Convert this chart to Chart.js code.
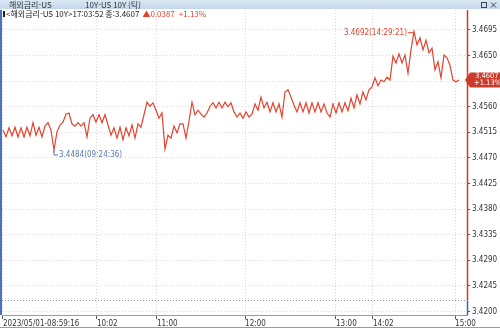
<!DOCTYPE html>
<html lang="ko">
<head>
<meta charset="UTF-8">
<title>해외금리-US 10Y</title>
<style>
  body { margin: 0; background: #fff; }
  #wrap { width: 500px; height: 328px; }
</style>
</head>
<body>
<div id="wrap"><canvas id="chart" width="500" height="328"></canvas></div>
<script src="https://cdn.jsdelivr.net/npm/chart.js"></script>
<script>
// tick-by-tick yield
const values = [
  3.4519, 3.4507, 3.4523, 3.4509, 3.4524, 3.4507, 3.4523, 3.4507, 3.4524, 3.4509,
  3.4532, 3.4510, 3.4524, 3.4507, 3.4526, 3.4532, 3.4519, 3.4484, 3.4516, 3.4528,
  3.4533, 3.4547, 3.4549, 3.4530, 3.4526, 3.4532, 3.4526, 3.4532, 3.4507, 3.4540,
  3.4546, 3.4533, 3.4546, 3.4532, 3.4546, 3.4528, 3.4510, 3.4523, 3.4505, 3.4524,
  3.4502, 3.4523, 3.4509, 3.4528, 3.4505, 3.4530, 3.4524, 3.4546, 3.4568, 3.4561,
  3.4567, 3.4554, 3.4540, 3.4549, 3.4486, 3.4510, 3.4505, 3.4526, 3.4514, 3.4530,
  3.4530, 3.4505, 3.4535, 3.4568, 3.4546, 3.4554, 3.4547, 3.4542, 3.4549, 3.4561,
  3.4567, 3.4558, 3.4568, 3.4558, 3.4568, 3.4560, 3.4567, 3.4551, 3.4542, 3.4549,
  3.4540, 3.4551, 3.4542, 3.4547, 3.4565, 3.4554, 3.4577, 3.4558, 3.4568, 3.4551,
  3.4567, 3.4551, 3.4565, 3.4542, 3.4586, 3.4590, 3.4577, 3.4563, 3.4551, 3.4567,
  3.4551, 3.4567, 3.4549, 3.4567, 3.4551, 3.4567, 3.4551, 3.4565, 3.4549, 3.4542,
  3.4565, 3.4549, 3.4567, 3.4551, 3.4567, 3.4553, 3.4575, 3.4558, 3.4581, 3.4565,
  3.4586, 3.4572, 3.4590, 3.4595, 3.4611, 3.4597, 3.4607, 3.4604, 3.4612, 3.4607,
  3.4649, 3.4637, 3.4653, 3.4637, 3.4651, 3.4619, 3.4660, 3.4692, 3.4669, 3.4681,
  3.4660, 3.4677, 3.4655, 3.4663, 3.4625, 3.4639, 3.4611, 3.4651, 3.4646, 3.4633,
  3.4607, 3.4604, 3.4607
];
const maxTime = '14:29:21';
const minTime = '09:24:36';

// x axis: tick index where each time label sits
const xTickPos = [0, 31.3, 51.3, 80.7, 111, 123.3, 150.7];
const xTickLabels = ['2023/05/01-08:59:16', '10:02', '11:00', '12:00', '13:00', '14:02', '15:00'];

const yTicks = [3.4200, 3.4245, 3.4290, 3.4335, 3.4380, 3.4425, 3.4470, 3.4515, 3.4560, 3.4605, 3.4650, 3.4695];

const prevClose = 3.4220;
const lastPrice = 3.4607;
const change = 0.0387;
const changePct = '+1.13%';

const red = '#e2432f';
const gridColor = '#e3d5d5';
const smallFont = "'Liberation Sans Narrow', 'DejaVu Sans Condensed', Arial, sans-serif";
const krFont = "'Noto Sans CJK KR', 'Noto Sans', sans-serif";

const extras = {
  id: 'extras',
  beforeDraw(chart) {
    const c = chart.ctx;
    c.save();
    c.fillStyle = '#fff';
    c.fillRect(0, 0, chart.width, chart.height);
    c.restore();
  },
  afterDatasetsDraw(chart) {
    const c = chart.ctx;
    const x = chart.scales.x, y = chart.scales.y;
    const a = chart.chartArea;
    c.save();

    // previous close line
    const py = Math.round(y.getPixelForValue(prevClose)) + 0.5;
    c.strokeStyle = '#8a93a6';
    c.lineWidth = 1;
    c.setLineDash([1, 2]);
    c.beginPath(); c.moveTo(a.left, py); c.lineTo(a.right, py); c.stroke();
    c.setLineDash([]);

    // right axis line: red above previous close, blue below
    c.lineWidth = 1.5;
    c.strokeStyle = '#d9342a';
    c.beginPath(); c.moveTo(a.right + 0.5, a.top); c.lineTo(a.right + 0.5, py); c.stroke();
    c.strokeStyle = '#3a63b8';
    c.beginPath(); c.moveTo(a.right + 0.5, py); c.lineTo(a.right + 0.5, a.bottom); c.stroke();

    // left frame edge
    c.strokeStyle = '#4a72c0';
    c.lineWidth = 2;
    c.beginPath(); c.moveTo(1, a.top); c.lineTo(1, a.bottom); c.stroke();

    // max / min markers
    const hi = Math.max(...values), lo = Math.min(...values);
    const hiX = x.getPixelForValue(values.indexOf(hi)), hiY = y.getPixelForValue(hi);
    const loX = x.getPixelForValue(values.indexOf(lo)), loY = y.getPixelForValue(lo);
    c.font = '8px ' + smallFont;
    c.textBaseline = 'middle';

    c.strokeStyle = red; c.fillStyle = red; c.lineWidth = 1;
    c.beginPath(); c.moveTo(hiX, hiY + 1); c.lineTo(hiX - 6, hiY + 1); c.stroke();
    c.textAlign = 'right';
    c.fillText(hi.toFixed(4) + '(' + maxTime + ')', hiX - 7, hiY + 1);

    c.strokeStyle = '#5b7bb0'; c.fillStyle = '#5b7bb0';
    c.beginPath(); c.moveTo(loX, loY); c.lineTo(loX, loY + 5); c.lineTo(loX + 4, loY + 5); c.stroke();
    c.textAlign = 'left';
    c.fillText(lo.toFixed(4) + '(' + minTime + ')', loX + 5, loY + 5);
    c.restore();
  },
  afterDraw(chart) {
    const c = chart.ctx;
    const y = chart.scales.y;
    const a = chart.chartArea;
    c.save();

    // title bar
    const g = c.createLinearGradient(0, 0, 0, 9);
    g.addColorStop(0, '#dbe8f4');
    g.addColorStop(1, '#c3d6ea');
    c.fillStyle = g;
    c.fillRect(0, 0, chart.width, 9);
    c.fillStyle = '#333';
    c.font = '8px ' + krFont;
    c.textBaseline = 'middle';
    c.textAlign = 'left';
    c.fillText('해외금리-US', 9, 5);
    c.fillText('10Y-US 10Y (틱)', 85, 5);
    c.strokeStyle = '#445';
    c.lineWidth = 1;
    c.strokeRect(481.5, 2.5, 5, 5);
    c.beginPath();
    c.moveTo(491, 2.5); c.lineTo(496, 7.5);
    c.moveTo(496, 2.5); c.lineTo(491, 7.5);
    c.stroke();

    // info line
    c.fillStyle = '#222';
    c.fillRect(3, 11, 2, 6);
    c.font = '8px ' + krFont;
    let tx = 6;
    const head = '<해외금리-US 10Y>17:03:52 종:' + lastPrice.toFixed(4);
    c.fillText(head, tx, 14);
    tx += c.measureText(head).width + 3;
    c.fillStyle = red;
    const chg = '▲' + change.toFixed(4);
    c.fillText(chg, tx, 14);
    tx += c.measureText(chg).width + 4;
    c.fillText(changePct, tx, 14);

    // last price box on the right axis
    const ly = y.getPixelForValue(lastPrice);
    c.fillStyle = '#cc3a2c';
    c.beginPath();
    c.moveTo(a.right - 2, ly);
    c.lineTo(a.right + 3, ly - 7.5);
    c.lineTo(chart.width, ly - 7.5);
    c.lineTo(chart.width, ly + 7.5);
    c.lineTo(a.right + 3, ly + 7.5);
    c.closePath();
    c.fill();
    c.fillStyle = '#fff';
    c.font = '7.5px ' + smallFont;
    c.textAlign = 'left';
    c.fillText(lastPrice.toFixed(4), a.right + 8, ly - 3.5);
    c.fillText(changePct, a.right + 7, ly + 3.5);

    // bottom frame line
    c.strokeStyle = '#9a9a9a';
    c.beginPath(); c.moveTo(0, chart.height - 0.5); c.lineTo(chart.width, chart.height - 0.5); c.stroke();
    c.restore();
  }
};

new Chart(document.getElementById('chart'), {
  type: 'line',
  data: {
    datasets: [{
      data: values.map((v, i) => ({ x: i, y: v })),
      borderColor: red,
      borderWidth: 1.2,
      pointRadius: 0,
      tension: 0
    }]
  },
  options: {
    responsive: false,
    devicePixelRatio: 1,
    animation: false,
    events: [],
    layout: { padding: { top: 10, left: 2, right: 0, bottom: 0 } },
    plugins: { legend: { display: false }, tooltip: { enabled: false } },
    scales: {
      x: {
        type: 'linear',
        min: -0.33,
        max: 154.67,
        afterBuildTicks: s => { s.ticks = xTickPos.map(v => ({ value: v })); },
        afterFit: s => { s.height = 13; },
        ticks: {
          autoSkip: false,
          maxRotation: 0,
          align: 'start',
          padding: 0,
          color: '#333',
          font: { size: 8, family: smallFont },
          callback: (v, i) => xTickLabels[i]
        },
        grid: { color: gridColor, tickLength: 4, tickColor: '#555' },
        border: { display: true, color: '#999', dash: [1, 2] }
      },
      y: {
        position: 'right',
        min: 3.4194,
        max: 3.47301,
        afterBuildTicks: s => { s.ticks = yTicks.map(v => ({ value: v })); },
        afterFit: s => { s.width = 33; },
        ticks: {
          padding: 2,
          color: '#333',
          font: { size: 8, family: smallFont },
          callback: v => v.toFixed(4)
        },
        grid: { color: gridColor, tickLength: 3, tickColor: '#555' },
        border: { display: false, dash: [1, 2] }
      }
    }
  },
  plugins: [extras]
});
</script>
</body>
</html>
